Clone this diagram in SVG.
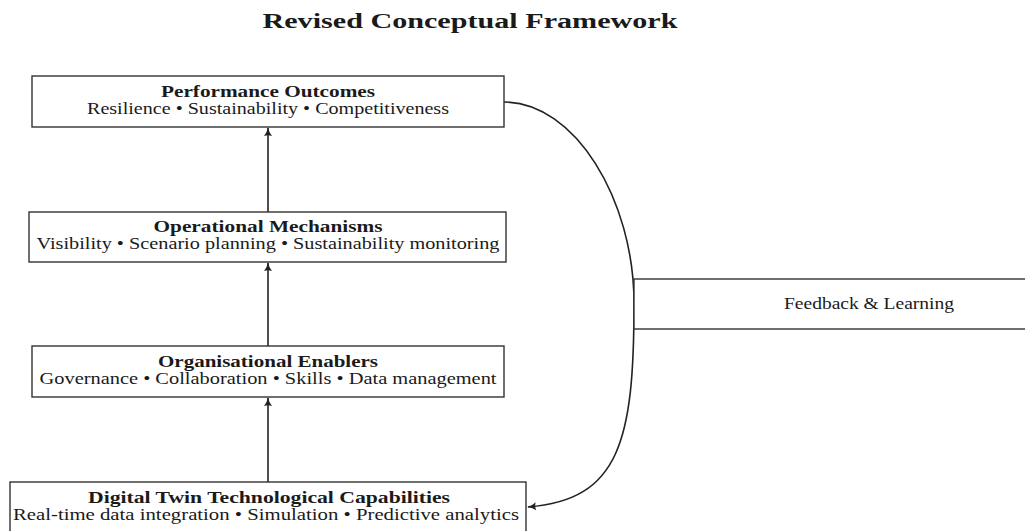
<svg xmlns="http://www.w3.org/2000/svg" width="1025" height="531" viewBox="0 0 1025 531">
<style>
.box{fill:#fff;stroke:#333;stroke-width:1.4}
.t{font-family:"Liberation Serif","DejaVu Serif",serif;fill:#1a1a1a;text-anchor:middle}
.h{font-size:16px;font-weight:bold}
.s{font-size:16px}
.edge{fill:none;stroke:#222;stroke-width:1.6}
</style>
<defs>
<marker id="arr" viewBox="0 0 10 10" refX="9" refY="5" markerWidth="9" markerHeight="9" markerUnits="userSpaceOnUse" orient="auto">
<path d="M0,0.5 Q4,4 10,5 Q4,6 0,9.5 Q2,5 0,0.5 Z" fill="#222"/>
</marker>
</defs>
<text class="t" x="470" y="28" font-size="20" font-weight="bold" textLength="415" lengthAdjust="spacingAndGlyphs">Revised Conceptual Framework</text>
<g id="connectors">
<line class="edge" x1="268" y1="482" x2="268" y2="398" marker-end="url(#arr)"/>
<line class="edge" x1="268" y1="346" x2="268" y2="263" marker-end="url(#arr)"/>
<line class="edge" x1="268" y1="212" x2="268" y2="128" marker-end="url(#arr)"/>
<path class="edge" d="M504,102 C575,102 634,200 634,303 C634,440 620,500 528,507" marker-end="url(#arr)"/>
</g>
<g id="performance">
<rect class="box" x="32" y="76" width="472" height="51"/>
<text class="t h" x="268" y="97" textLength="214" lengthAdjust="spacingAndGlyphs">Performance Outcomes</text>
<text class="t s" x="268" y="114" textLength="362" lengthAdjust="spacingAndGlyphs">Resilience • Sustainability • Competitiveness</text>
</g>
<g id="operational">
<rect class="box" x="29" y="212" width="477" height="50"/>
<text class="t h" x="268" y="232" textLength="229" lengthAdjust="spacingAndGlyphs">Operational Mechanisms</text>
<text class="t s" x="268" y="249" textLength="463" lengthAdjust="spacingAndGlyphs">Visibility • Scenario planning • Sustainability monitoring</text>
</g>
<g id="organisational">
<rect class="box" x="32" y="346" width="472" height="51"/>
<text class="t h" x="268" y="367" textLength="220" lengthAdjust="spacingAndGlyphs">Organisational Enablers</text>
<text class="t s" x="268" y="384" textLength="457" lengthAdjust="spacingAndGlyphs">Governance • Collaboration • Skills • Data management</text>
</g>
<g id="digital">
<rect class="box" x="10" y="482" width="516" height="60"/>
<text class="t h" x="269" y="503" textLength="362" lengthAdjust="spacingAndGlyphs">Digital Twin Technological Capabilities</text>
<text class="t s" x="266" y="520" textLength="506" lengthAdjust="spacingAndGlyphs">Real-time data integration • Simulation • Predictive analytics</text>
</g>
<g id="feedback">
<rect class="box" x="634" y="279" width="470" height="50"/>
<text class="t s" x="869" y="309" textLength="170" lengthAdjust="spacingAndGlyphs">Feedback &amp; Learning</text>
</g>
</svg>
